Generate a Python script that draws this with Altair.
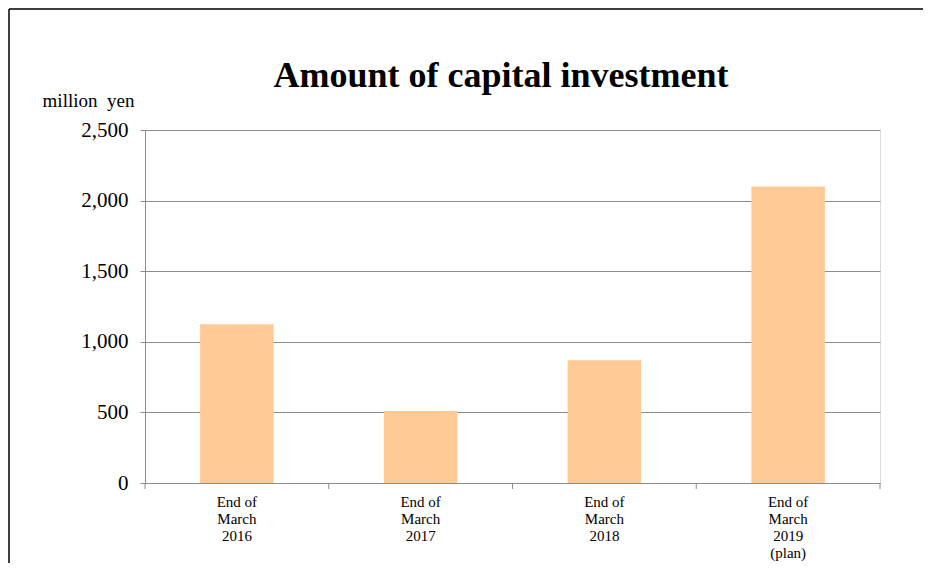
import altair as alt
import pandas as pd

TITLE = "Amount of capital investment"
UNIT = "million\u00a0\u00a0yen"
categories = ["End of|March|2016", "End of|March|2017", "End of|March|2018", "End of|March|2019|(plan)"]
values = [1125, 510, 870, 2100]

df = pd.DataFrame({"cat": categories, "value": values})

W, H = 735, 353
P_IN, P_OUT = 0.6, 0.3
step = W / (len(categories) - P_IN + 2 * P_OUT)

FONT = "Liberation Serif"
GRID = "#8c8c8c"

xscale = alt.Scale(paddingInner=P_IN, paddingOuter=P_OUT)

bars = alt.Chart(df).mark_bar(color="#FFCA96").encode(
    x=alt.X("cat:N", sort=None, scale=xscale,
            axis=alt.Axis(title=None, labelAngle=0, ticks=False, domain=True,
                          domainColor=GRID, labelFont=FONT, labelFontSize=15,
                          labelColor="black", labelPadding=11, labelLineHeight=17,
                          labelExpr="split(datum.label, '|')")),
    y=alt.Y("value:Q", scale=alt.Scale(domain=[0, 2500]),
            axis=alt.Axis(values=[0, 500, 1000, 1500, 2000, 2500], format=",.0f",
                          title=UNIT, titleAngle=0, titleAlign="center",
                          titleBaseline="alphabetic", titleX=-57, titleY=-24,
                          titleFont=FONT, titleFontSize=19, titleFontWeight="normal",
                          titleColor="black",
                          labelFont=FONT, labelFontSize=21, labelColor="black",
                          labelPadding=12, tickSize=5, tickColor=GRID,
                          domainColor=GRID, gridColor=GRID, grid=True)),
)

ticks = alt.Chart(df).mark_rule(color=GRID, xOffset=-step / 2).encode(
    x=alt.X("cat:N", sort=None),
    y=alt.value(H),
    y2=alt.value(H + 6),
)
tick_end = alt.Chart(df.head(1)).mark_rule(color=GRID).encode(
    x=alt.value(W), y=alt.value(H), y2=alt.value(H + 6),
)

frame_top = alt.Chart(df.head(1)).mark_rule(color="black", strokeWidth=1.5).encode(
    x=alt.value(-136), x2=alt.value(W + 60), y=alt.value(-121),
)
frame_left = alt.Chart(df.head(1)).mark_rule(color="black", strokeWidth=1.5).encode(
    x=alt.value(-136), y=alt.value(-121), y2=alt.value(H + 100),
)

title = alt.Chart(df.head(1)).mark_text(
    font=FONT, fontSize=36, fontWeight="bold", color="black",
    align="center", baseline="alphabetic",
).encode(x=alt.value(356), y=alt.value(-43), text=alt.value(TITLE))

chart = alt.layer(bars, ticks, tick_end, frame_top, frame_left, title).properties(
    width=W, height=H,
    autosize=alt.AutoSizeParams(type="none"),
    padding={"left": 137, "top": 122, "right": 43, "bottom": 80},
).configure_view(stroke=None).configure(background="white", font=FONT
).configure_axis(labelFont=FONT, titleFont=FONT)

chart.save("out.html", embed_options={"renderer": "svg", "actions": False})
